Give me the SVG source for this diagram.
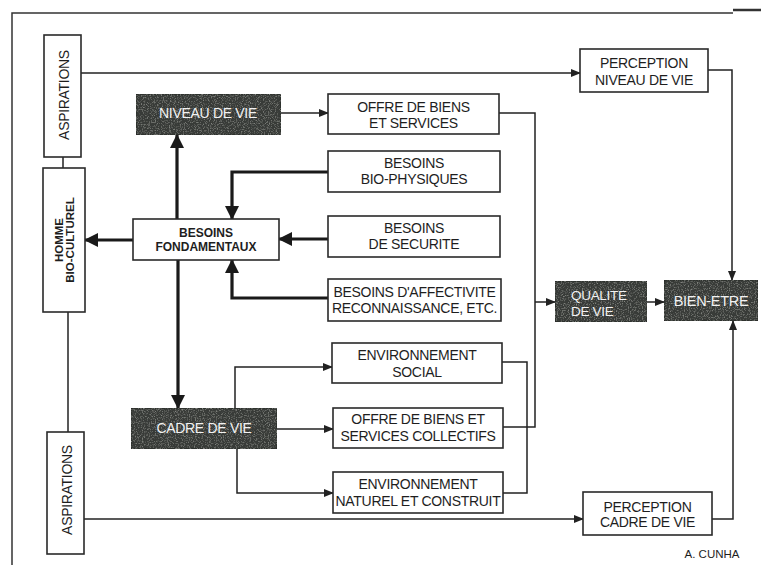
<svg xmlns="http://www.w3.org/2000/svg" width="761" height="565" viewBox="0 0 761 565">
<style>
  .box { fill: #ffffff; stroke: #2a2a2a; stroke-width: 1.6; }
  .dark { fill: #383a38; stroke: #2a2a2a; stroke-width: 1.2; }
  .t { font-family: "Liberation Sans", Arial, sans-serif; font-size: 14px; fill: #1e1e1e; text-anchor: middle; letter-spacing: -0.3px; }
  .w { fill: #f2f2f2; }
  .b { font-weight: bold; font-size: 12px; letter-spacing: 0; }
  .thin { fill: none; stroke: #222; stroke-width: 1.5; }
  .thick { fill: none; stroke: #1a1a1a; stroke-width: 3.2; }
  .frame { fill: none; stroke: #333; stroke-width: 1.5; }
</style>
<defs>
  <marker id="a" markerUnits="userSpaceOnUse" markerWidth="10" markerHeight="8" refX="9" refY="4" orient="auto">
    <path d="M0,0 L10,4 L0,8 Z" fill="#222"/>
  </marker>
  <marker id="A" markerUnits="userSpaceOnUse" markerWidth="14" markerHeight="14" refX="13" refY="7" orient="auto">
    <path d="M0,0 L14,7 L0,14 Z" fill="#1a1a1a"/>
  </marker>
  <filter id="grain" x="0" y="0" width="1" height="1">
    <feTurbulence type="fractalNoise" baseFrequency="0.85" numOctaves="2" seed="4" result="n"/>
    <feColorMatrix in="n" type="matrix" values="0 0 0 0 0.5  0 0 0 0 0.52  0 0 0 0 0.48  0 0 0 1.2 -0.6" result="spk"/>
    <feComposite in="spk" in2="SourceGraphic" operator="in" result="s2"/>
    <feMerge><feMergeNode in="SourceGraphic"/><feMergeNode in="s2"/></feMerge>
  </filter>
</defs>

<rect width="761" height="565" fill="#ffffff"/>

<!-- frame -->
<path class="frame" d="M12,565 L12,13 L733,13"/>
<path d="M733,10 H761" stroke="#333" stroke-width="2.5"/>

<g id="connectors">
  <path class="thin" d="M81,73 H580" marker-end="url(#a)"/>
  <path class="thin" d="M708,70 H732 V280" marker-end="url(#a)"/>
  <path class="thin" d="M84,519 H583" marker-end="url(#a)"/>
  <path class="thin" d="M712,519 H733 V321" marker-end="url(#a)"/>
  <path class="thin" d="M63,157 V168"/>
  <path class="thin" d="M68,312 V432"/>
  <path class="thick" d="M133,240 H85" marker-end="url(#A)"/>
  <path class="thick" d="M177,219 V135" marker-end="url(#A)"/>
  <path class="thick" d="M178,260 V408" marker-end="url(#A)"/>
  <path class="thick" d="M328,172 H232 V219" marker-end="url(#A)"/>
  <path class="thick" d="M328,239 H279" marker-end="url(#A)"/>
  <path class="thick" d="M328,298 H232 V260" marker-end="url(#A)"/>
  <path class="thin" d="M281,113 H328" marker-end="url(#a)"/>
  <path class="thin" d="M499,113 H535 V427 H503"/>
  <path class="thin" d="M535,302 H555" marker-end="url(#a)"/>
  <path class="thin" d="M502,362 H527 V493 H503"/>
  <path class="thin" d="M235,408 V367 H332" marker-end="url(#a)"/>
  <path class="thin" d="M277,429 H333" marker-end="url(#a)"/>
  <path class="thin" d="M237,449 V493 H333" marker-end="url(#a)"/>
  <path class="thin" d="M647,302 H664" marker-end="url(#a)"/>
</g>

<g id="aspirations-top">
  <rect class="box" x="44" y="35" width="37" height="122"/>
  <text class="t" transform="translate(69,95) rotate(-90)">ASPIRATIONS</text>
</g>

<g id="homme">
  <rect class="box" x="43" y="168" width="42" height="144"/>
  <text class="t b" transform="translate(63,240) rotate(-90)" style="font-size:11.5px">HOMME</text>
  <text class="t b" transform="translate(74,240) rotate(-90)" style="font-size:11.5px">BIO-CULTUREL</text>
</g>

<g id="aspirations-bottom">
  <rect class="box" x="47" y="432" width="37" height="122"/>
  <text class="t" transform="translate(72,490) rotate(-90)">ASPIRATIONS</text>
</g>

<g id="niveau-de-vie">
  <rect class="dark" x="136" y="94" width="145" height="41" filter="url(#grain)"/>
  <text class="t w" x="208" y="118">NIVEAU DE VIE</text>
</g>

<g id="besoins-fondamentaux">
  <rect class="box" x="133" y="219" width="146" height="41"/>
  <text class="t b" x="206" y="237">BESOINS</text>
  <text class="t b" x="206" y="251">FONDAMENTAUX</text>
</g>

<g id="cadre-de-vie">
  <rect class="dark" x="131" y="408" width="146" height="41" filter="url(#grain)"/>
  <text class="t w" x="204" y="433">CADRE DE VIE</text>
</g>

<g id="offre-biens">
  <rect class="box" x="328" y="94" width="171" height="40"/>
  <text class="t" x="413.5" y="112">OFFRE DE BIENS</text>
  <text class="t" x="413.5" y="128">ET SERVICES</text>
</g>

<g id="bio-physiques">
  <rect class="box" x="328" y="151" width="172" height="41"/>
  <text class="t" x="414" y="168">BESOINS</text>
  <text class="t" x="414" y="184">BIO-PHYSIQUES</text>
</g>

<g id="securite">
  <rect class="box" x="328" y="216" width="172" height="41"/>
  <text class="t" x="414" y="233">BESOINS</text>
  <text class="t" x="414" y="249">DE SECURITE</text>
</g>

<g id="affectivite">
  <rect class="box" x="328" y="279" width="173" height="42"/>
  <text class="t" x="414.5" y="297">BESOINS D'AFFECTIVITE</text>
  <text class="t" x="414.5" y="313">RECONNAISSANCE, ETC.</text>
</g>

<g id="env-social">
  <rect class="box" x="332" y="343" width="170" height="40"/>
  <text class="t" x="417" y="360">ENVIRONNEMENT</text>
  <text class="t" x="417" y="377">SOCIAL</text>
</g>

<g id="offre-collectifs">
  <rect class="box" x="333" y="408" width="170" height="40"/>
  <text class="t" x="418" y="424">OFFRE DE BIENS ET</text>
  <text class="t" x="418" y="441">SERVICES COLLECTIFS</text>
</g>

<g id="env-naturel">
  <rect class="box" x="333" y="472" width="170" height="41"/>
  <text class="t" x="418" y="489">ENVIRONNEMENT</text>
  <text class="t" x="418" y="506">NATUREL ET CONSTRUIT</text>
</g>

<g id="perception-niveau">
  <rect class="box" x="580" y="49" width="128" height="43"/>
  <text class="t" x="644" y="68">PERCEPTION</text>
  <text class="t" x="644" y="85">NIVEAU DE VIE</text>
</g>

<g id="perception-cadre">
  <rect class="box" x="583" y="492" width="129" height="43"/>
  <text class="t" x="647.5" y="512">PERCEPTION</text>
  <text class="t" x="647.5" y="527">CADRE DE VIE</text>
</g>

<g id="qualite-de-vie">
  <rect class="dark" x="555" y="281" width="92" height="41" filter="url(#grain)"/>
  <text class="t w" x="571" y="300" style="text-anchor:start;font-size:13.5px">QUALITE</text>
  <text class="t w" x="571" y="316" style="text-anchor:start;font-size:13.5px">DE VIE</text>
</g>

<g id="bien-etre">
  <rect class="dark" x="664" y="280" width="94" height="41" filter="url(#grain)"/>
  <text class="t w" x="711" y="306" style="font-size:14.5px">BIEN-ETRE</text>
</g>

<text class="t" x="712" y="558" style="font-size:11.5px;letter-spacing:0">A. CUNHA</text>
</svg>
